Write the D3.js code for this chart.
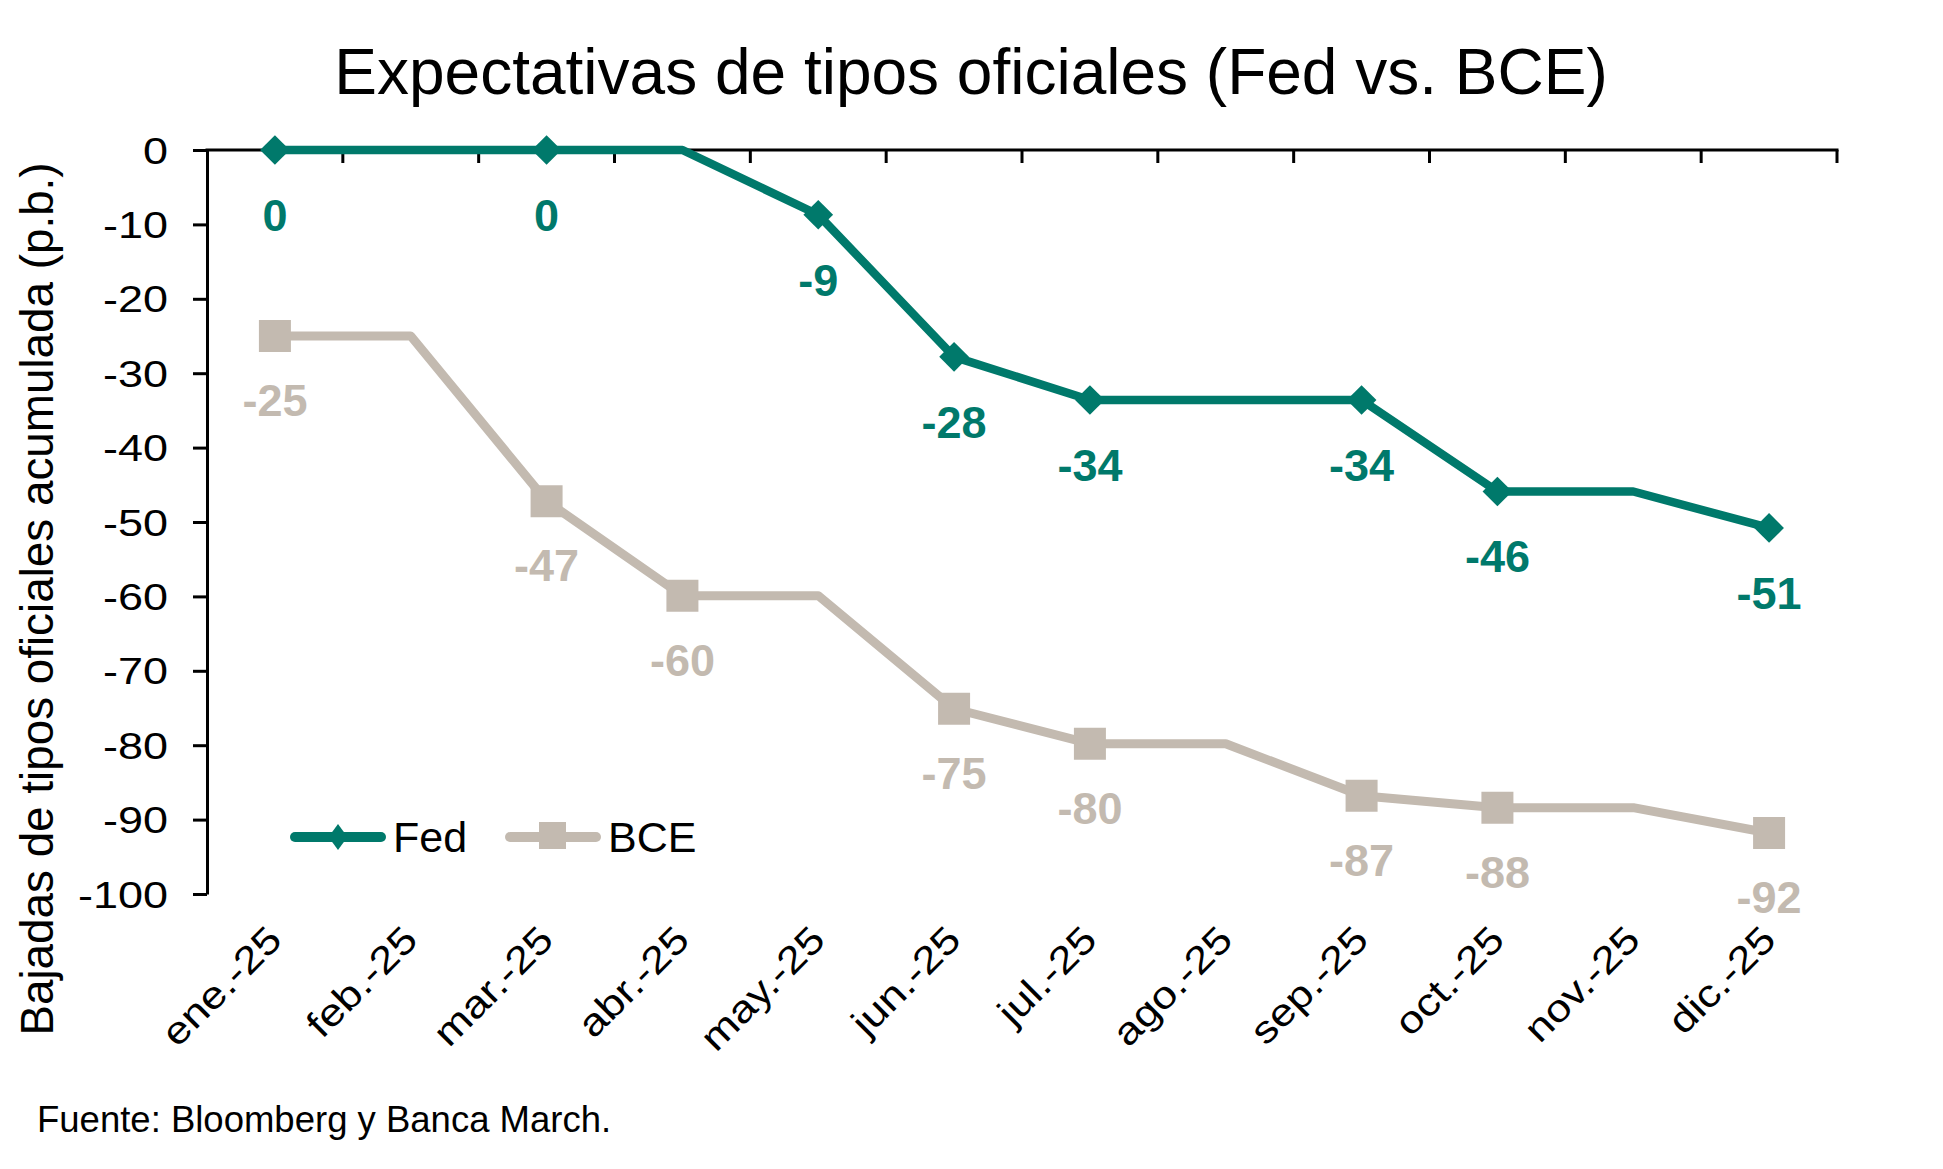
<!DOCTYPE html>
<html><head><meta charset="utf-8">
<script src="https://cdn.jsdelivr.net/npm/d3@7"></script>
<style>body{margin:0;background:#fff}text{font-family:"Liberation Sans",Arial,sans-serif}</style>
</head><body>
<svg id="c" width="1943" height="1169"></svg>
<script>
const categories = ["ene.-25","feb.-25","mar.-25","abr.-25","may.-25","jun.-25","jul.-25","ago.-25","sep.-25","oct.-25","nov.-25","dic.-25"];
const fedValues = [0, 0, 0, 0, -8.7, -27.8, -33.6, -33.6, -33.6, -45.9, -45.9, -50.8];
const bceValues = [-25, -25, -47.2, -59.9, -59.9, -75.1, -79.8, -79.8, -86.8, -88.4, -88.4, -91.8];
const fedMarked = [1,0,1,0,1,1,1,0,1,1,0,1];
const bceMarked = [1,0,1,1,0,1,1,0,1,1,0,1];
const yTicks = [0,-10,-20,-30,-40,-50,-60,-70,-80,-90,-100];
const seriesNames = ["Fed","BCE"];
const title = "Expectativas de tipos oficiales (Fed vs. BCE)";
const yTitle = "Bajadas de tipos oficiales acumulada (p.b.)";
const source = "Fuente: Bloomberg y Banca March.";

const FED = "#00796B", BCE = "#C3BAB0";
const loc = d3.formatLocale({decimal: ",", thousands: ".", grouping: [3], currency: ["", "€"], minus: "-"});
const fmt = loc.format(".0f");
const svg = d3.select("#c");
const x = d3.scaleBand().domain(categories).range([207, 1837]).padding(0);
const cx = c => x(c) + x.bandwidth() / 2;
const y = d3.scaleLinear().domain([-100, 0]).range([894, 150]);

// title
svg.append("text").attr("x", 971).attr("y", 94).attr("text-anchor", "middle")
  .attr("font-size", 64).attr("fill", "#000").text(title);

// y title
svg.append("text").attr("transform", "translate(53,599) rotate(-90)").attr("text-anchor", "middle")
  .attr("font-size", 45.8).attr("fill", "#000").text(yTitle);

// source
svg.append("text").attr("x", 37).attr("y", 1132).attr("font-size", 36.5).attr("fill", "#000").text(source);

// y axis
const yAxis = svg.append("g").attr("transform", "translate(207,0)")
  .call(d3.axisLeft(y).tickValues(yTicks).tickSize(14).tickSizeOuter(0).tickFormat(fmt));
yAxis.select(".domain").attr("stroke", "#000").attr("stroke-width", 3);
yAxis.selectAll(".tick line").attr("stroke", "#000").attr("stroke-width", 3);
yAxis.selectAll(".tick text").attr("x", 0).attr("dy", null).attr("y", 0)
  .attr("transform", "translate(-39,13) scale(1.25,1)")
  .attr("font-size", 36).attr("font-family", "Liberation Sans, Arial, sans-serif").attr("fill", "#000");

// top x axis line at 0 with boundary ticks
const xAxisG = svg.append("g");
xAxisG.append("line").attr("x1", x.range()[0] - 1.5).attr("x2", x.range()[1] + 1.5)
  .attr("y1", y(0)).attr("y2", y(0)).attr("stroke", "#000").attr("stroke-width", 3);
xAxisG.selectAll("line.tk").data(d3.range(1, categories.length + 1)).join("line").attr("class", "tk")
  .attr("x1", i => x.range()[0] + i * x.step()).attr("x2", i => x.range()[0] + i * x.step())
  .attr("y1", y(0)).attr("y2", y(0) + 13).attr("stroke", "#000").attr("stroke-width", 3);

// x labels
svg.append("g").selectAll("text").data(categories).join("text")
  .attr("transform", c => `translate(${cx(c) + 9},942) rotate(-45) scale(1.17,1)`)
  .attr("text-anchor", "end").attr("font-size", 38).attr("fill", "#000").text(c => c);

// lines
const line = d3.line().x((d, i) => cx(categories[i])).y(d => y(d));
svg.append("path").datum(bceValues).attr("d", line).attr("fill", "none").attr("stroke", BCE)
  .attr("stroke-width", 9).attr("stroke-linejoin", "round");
svg.append("path").datum(fedValues).attr("d", line).attr("fill", "none").attr("stroke", FED)
  .attr("stroke-width", 8.5).attr("stroke-linejoin", "round");

// markers
const sq = d3.symbol().type(d3.symbolSquare);
svg.append("g").selectAll("path").data(bceValues.map((v, i) => ({v, i})).filter(d => bceMarked[d.i]))
  .join("path").attr("d", sq.size(32 * 32)())
  .attr("transform", d => `translate(${cx(categories[d.i])},${y(d.v)})`).attr("fill", BCE);
svg.append("g").selectAll("path").data(fedValues.map((v, i) => ({v, i})).filter(d => fedMarked[d.i]))
  .join("path").attr("d", sq.size(21 * 21)())
  .attr("transform", d => `translate(${cx(categories[d.i])},${y(d.v)}) rotate(45)`).attr("fill", FED);

// data labels
svg.append("g").selectAll("text").data(bceValues.map((v, i) => ({v, i})).filter(d => bceMarked[d.i]))
  .join("text").attr("x", d => cx(categories[d.i])).attr("y", d => y(d.v) + 80)
  .attr("text-anchor", "middle").attr("font-size", 45).attr("font-weight", "bold").attr("fill", BCE)
  .text(d => fmt(d.v));
svg.append("g").selectAll("text").data(fedValues.map((v, i) => ({v, i})).filter(d => fedMarked[d.i]))
  .join("text").attr("x", d => cx(categories[d.i])).attr("y", d => y(d.v) + 81)
  .attr("text-anchor", "middle").attr("font-size", 45).attr("font-weight", "bold").attr("fill", FED)
  .text(d => fmt(d.v));

// legend
const lg = svg.append("g");
lg.append("line").attr("x1", 295).attr("x2", 381).attr("y1", 837).attr("y2", 837)
  .attr("stroke", FED).attr("stroke-width", 10).attr("stroke-linecap", "round");
lg.append("path").attr("d", "M338,824 L347.5,837 L338,850 L328.5,837 Z").attr("fill", FED);
lg.append("text").attr("x", 393).attr("y", 852).attr("font-size", 43).attr("fill", "#000").text(seriesNames[0]);
lg.append("line").attr("x1", 510).attr("x2", 596).attr("y1", 837).attr("y2", 837)
  .attr("stroke", BCE).attr("stroke-width", 10).attr("stroke-linecap", "round");
lg.append("rect").attr("x", 539).attr("y", 822).attr("width", 27).attr("height", 27).attr("fill", BCE);
lg.append("text").attr("x", 608).attr("y", 852).attr("font-size", 43).attr("fill", "#000").text(seriesNames[1]);
</script>
</body></html>
